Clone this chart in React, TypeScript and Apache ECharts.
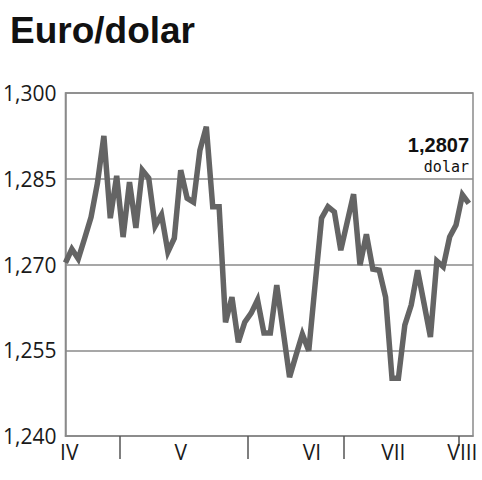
import React, { useEffect, useRef } from "react";
import * as echarts from "echarts";

// Daily EUR/USD rate (trading-day index 0..63)
const rates: number[] = [
  1.2703, 1.2727, 1.2710, 1.2746, 1.2783, 1.2843, 1.2925, 1.2781, 1.2855, 1.2748,
  1.2844, 1.2764, 1.2865, 1.2851, 1.2767, 1.2787, 1.2722, 1.2746, 1.2865, 1.2816,
  1.2809, 1.2900, 1.2941, 1.2801, 1.2801, 1.2599, 1.2643, 1.2564, 1.2599, 1.2615,
  1.2638, 1.2580, 1.2580, 1.2664, 1.2584, 1.2503, 1.2541, 1.2578, 1.2549, 1.2666,
  1.2781, 1.2801, 1.2792, 1.2725, 1.2774, 1.2823, 1.2699, 1.2753, 1.2692, 1.2690,
  1.2643, 1.2501, 1.2501, 1.2594, 1.2629, 1.2690, 1.2632, 1.2573, 1.2706, 1.2696,
  1.2748, 1.2769, 1.2822, 1.2807,
];

// Months (Roman numerals), where each label sits and where month boundaries fall (day index)
const monthNames: string[] = ["IV", "V", "VI", "VII", "VIII"];
const monthLabelAt: number[] = [0.6, 18, 38.5, 51.2, 62];
const monthBoundaries: number[] = [8.5, 28.5, 43.5];
const lastMonthStart: number[] = [61.5];

// Y axis ticks
const yMin = 1.24;
const yMax = 1.3;
const yStep = 0.015;

const fmt = (v: number, d: number) => v.toFixed(d).replace(".", ",");

export default function App() {
  const ref = useRef<HTMLDivElement>(null);

  useEffect(() => {
    if (!ref.current) return;
    const chart = echarts.init(ref.current, null, { renderer: "svg" });
    const data = rates.map((v, i) => [i, v]);
    const xMax = 63.65;
    const last = rates[rates.length - 1];
    const labelFont = "Open Sans";

    chart.setOption({
      animation: false,
      grid: {
        left: 63,
        right: 9,
        top: 93,
        bottom: 44,
        show: true,
        borderColor: "#8a8a8a",
        borderWidth: 1.5,
        backgroundColor: "transparent",
      },
      xAxis: [
        {
          type: "value",
          min: 0,
          max: xMax,
          axisLine: { show: true, lineStyle: { color: "#8a8a8a", width: 1.5 } },
          splitLine: { show: false },
          axisTick: {
            show: true,
            customValues: monthBoundaries,
            length: 23,
            lineStyle: { color: "#555", width: 1.5 },
          },
          axisLabel: {
            show: true,
            customValues: monthLabelAt,
            formatter: (v: number) => {
              const i = monthLabelAt.findIndex((p) => Math.abs(p - v) < 1e-6);
              return i >= 0 ? monthNames[i] : "";
            },
            fontFamily: labelFont,
            fontSize: 21,
            color: "#1a1a1a",
            margin: 5,
          },
        },
        {
          type: "value",
          min: 0,
          max: xMax,
          position: "bottom",
          axisLine: { show: false },
          splitLine: { show: false },
          axisTick: {
            show: true,
            customValues: lastMonthStart,
            length: 10,
            lineStyle: { color: "#555", width: 1.5 },
          },
          axisLabel: { show: false },
        },
      ],
      yAxis: {
        type: "value",
        min: yMin,
        max: yMax,
        interval: yStep,
        axisLine: { show: true, lineStyle: { color: "#8a8a8a", width: 1.5 } },
        axisTick: { show: false },
        splitLine: { show: true, lineStyle: { color: "#8a8a8a", width: 1.5 } },
        axisLabel: {
          formatter: (v: number) => fmt(v, 3),
          fontFamily: labelFont,
          fontSize: 21,
          color: "#1a1a1a",
          margin: 9,
        },
      },
      graphic: [
        {
          type: "text",
          left: 10,
          top: 12,
          style: {
            text: "Euro/dolar",
            font: "bold 37px 'Liberation Sans', Arial, sans-serif",
            fill: "#111",
          },
        },
        {
          type: "text",
          x: 469,
          y: 145,
          style: {
            text: fmt(last, 4),
            font: "bold 20px 'Liberation Sans', Arial, sans-serif",
            fill: "#111",
            textAlign: "right",
            textVerticalAlign: "middle",
          },
        },
        {
          type: "text",
          x: 469,
          y: 167,
          style: {
            text: "dolar",
            font: "15px 'DejaVu Sans Mono', monospace",
            fill: "#111",
            textAlign: "right",
            textVerticalAlign: "middle",
          },
        },
      ],
      series: [
        {
          type: "line",
          data,
          xAxisIndex: 0,
          showSymbol: false,
          symbol: "none",
          lineStyle: { color: "#646464", width: 5.5, join: "miter" },
          z: 5,
        },
      ],
    });

    return () => chart.dispose();
  }, []);

  return <div ref={ref} style={{ width: 482, height: 480, position: "absolute", left: 0, top: 0 }} />;
}
